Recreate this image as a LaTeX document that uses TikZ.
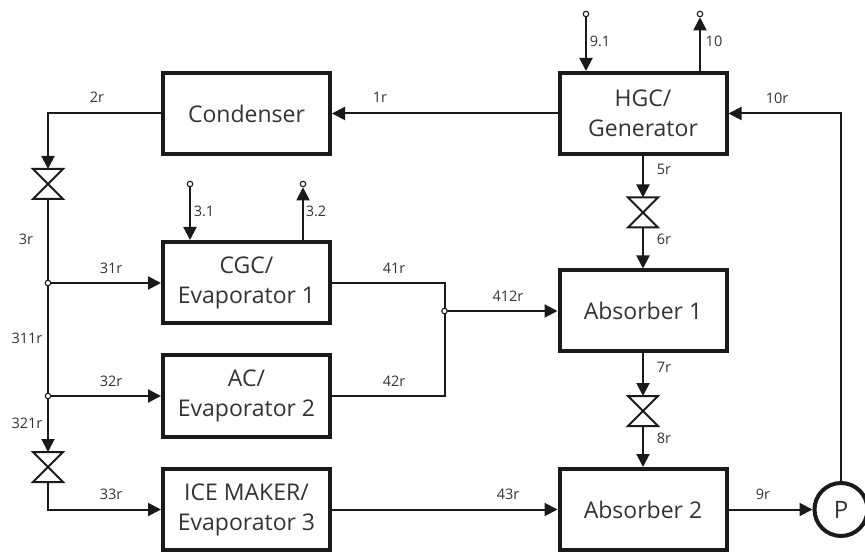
\documentclass[tikz,border=0pt]{standalone}
\usepackage{fontspec}
\setmainfont{Open Sans}
\usetikzlibrary{arrows.meta,calc}
\definecolor{ink}{HTML}{1A1A1A}
\definecolor{txt}{HTML}{333333}
\tikzset{
  x=1pt,y=-1pt,
  box/.style={draw=ink,line width=4pt,rectangle,minimum width=167pt,minimum height=81pt,inner sep=0pt,align=center,text=txt,font=\fontsize{23}{30}\selectfont},
  pipe/.style={draw=ink,line width=2pt},
  flow/.style={pipe,-{Triangle[length=13pt,width=13pt]}},
  lbl/.style={text=txt,font=\fontsize{14.5}{16}\selectfont,inner sep=0pt},
  dot/.style={circle,draw=ink,fill=white,line width=1.1pt,minimum size=5.5pt,inner sep=0pt},
  valvebox/.style={rectangle,minimum width=30pt,minimum height=30pt,inner sep=0pt,outer sep=0pt},
  pump/.style={circle,draw=ink,line width=4pt,fill=white,minimum size=53pt,inner sep=0pt,text=txt,font=\fontsize{24}{26}\selectfont},
}
\newcommand{\valvesym}[2]{%
  \node[valvebox] (#1) at #2 {};
  \draw[pipe,line join=miter] (#1.north west)--(#1.south east)--(#1.south west)--(#1.north east)--cycle;
}
\begin{document}
\begin{tikzpicture}
\useasboundingbox (0,0) rectangle (865,553);
\fill[white] (0,0) rectangle (865,553);
% boxes
\node[box] (cond) at (246.5,113.5) {Condenser};
\node[box] (hgc) at (643,113.5) {HGC/\\Generator};
\node[box] (cgc) at (246.5,282.5) {CGC/\\Evaporator 1};
\node[box] (ac) at (246.5,396) {AC/\\Evaporator 2};
\node[box] (ice) at (246.5,509.5) {ICE MAKER/\\Evaporator 3};
\node[box] (abs1) at (643,311) {Absorber 1};
\node[box] (abs2) at (643,509.5) {Absorber 2};
\begin{scope}
\clip (0,0) rectangle (865,553);
\node[pump] (p) at (841,509.5) {P};
\end{scope}
% valves
\valvesym{v1}{(48,184)}
\valvesym{v2}{(643,212.5)}
\valvesym{v3}{(643,411)}
\valvesym{v4}{(48,467)}
% terminals and junctions
\coordinate (j1) at (48,283);
\coordinate (j2) at (48,396);
\coordinate (j3) at (444.5,311);
\node[dot] (t31) at (190,184) {};
\node[dot] (t32) at (303,184) {};
\node[dot] (t91) at (586,14) {};
\node[dot] (t10) at (700,14) {};
% connectors
\draw[flow] (hgc.west) -- (cond.east);
\draw[flow] (cond.west) -| (v1.north);
\draw[pipe] (v1.south) -- (j2);
\draw[flow] (j2) -- (v4.north);
\draw[flow] (v4.south) |- (ice.west);
\draw[flow] (j1) -- (j1 -| cgc.west);
\draw[flow] (j2) -- (ac.west);
\draw[pipe] (cgc.east |- j1) -| (j3) |- (ac.east);
\draw[flow] (j3) -- (j3 -| abs1.west);
\draw[flow] (ice.east) -- (abs2.west);
\draw[flow] (abs2.east) -- (p.west);
\draw[flow] (p.north) |- (hgc.east);
\draw[flow] (hgc.south) -- (v2.north);
\draw[flow] (v2.south) -- (abs1.north);
\draw[flow] (abs1.south) -- (v3.north);
\draw[flow] (v3.south) -- (abs2.north);
\draw[flow] (t31) -- (t31 |- cgc.north);
\draw[flow] (t32 |- cgc.north) -- (t32);
\draw[flow] (t91) -- (t91 |- hgc.north);
\draw[flow] (t10 |- hgc.north) -- (t10);
\node[dot] (d1) at (j1) {};
\node[dot] (d2) at (j2) {};
\node[dot] (d3) at (j3) {};
% labels
\foreach \p/\t in {(97,97)/2r,(380,97)/1r,(204,211)/3.1,(316,211)/3.2,(26,239)/3r,(111,268)/31r,(394,268)/41r,(27,338)/311r,(111,381)/32r,(394,381)/42r,(27,423)/321r,(111,494)/33r,(508,494)/43r,(508,296)/412r,(600,41)/9.1,(714,41)/10,(777,98)/10r,(664,169)/5r,(664,239)/6r,(664,367)/7r,(664,438)/8r,(763,494)/9r}
  \node[lbl] at \p {\t};
\end{tikzpicture}
\end{document}
